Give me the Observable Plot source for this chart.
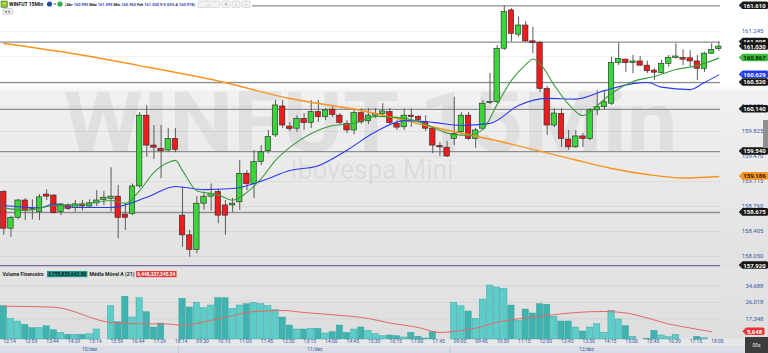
<!DOCTYPE html>
<html>
<head>
<meta charset="utf-8">
<script src="https://cdn.jsdelivr.net/npm/d3@7"></script>
<script src="https://cdn.jsdelivr.net/npm/@observablehq/plot@0.6"></script>
<style>
html, body { margin:0; padding:0; background:#ffffff; }
#root { position:relative; width:768px; height:353px; overflow:hidden; font-family: Roboto, "Liberation Sans", sans-serif; }
#root > svg { position:absolute; left:0; display:block; }
</style>
</head>
<body>
<div id="root"></div>
<script>
// ---------------- DATA ----------------
const candleOpen = [158965,158445,158600,158845,158730,158680,158930,158915,158680,158775,
158740,158790,158760,158805,158855,158870,158900,158645,158655,159045,
160050,159625,159580,159555,159720,158630,158350,158145,158800,158900,
158965,158775,158775,158820,159225,159080,159390,159545,159770,160180,
159895,159865,160005,159945,160100,160030,160135,160050,159935,159840,
160085,159970,160050,160075,160100,159935,159885,160050,160030,159955,
159865,159620,159595,159720,159815,160050,159720,159865,160230,160240,
161000,161545,161200,161330,161105,161080,160430,159910,160075,159710,
159600,159755,159720,160125,160170,160220,160795,160845,160795,160820,
160760,160690,160655,160785,160870,160870,160865,160820,160715,160930,160995];
const candleHigh = [158985,158620,158860,158870,158855,158930,158995,158930,158800,158800,
158845,158845,158855,158985,158975,159310,159060,158800,159080,160095,
160195,159910,159910,159870,159865,159035,158420,158900,158965,159080,
159010,158845,158875,159415,159270,159555,159625,159840,160265,160265,
159955,160050,160080,160265,160265,160150,160170,160080,159980,160150,
160150,160150,160150,160220,160150,159980,160145,160145,160050,160050,
159895,159670,159685,160310,160095,160095,159870,160265,160650,161045,
161610,161570,161450,161385,161305,161105,160465,160150,160150,159840,
159840,159795,160150,160405,160405,160880,161080,160855,160905,160890,
160825,160715,160835,160905,161070,160985,160975,160905,160950,161070,161095];
const candleLow = [158350,158325,158570,158560,158570,158560,158845,158655,158630,158705,
158680,158695,158740,158760,158775,158680,158300,158420,158630,159015,
159460,159425,159155,159525,159525,158180,158040,158090,158705,158695,
158515,158350,158675,158705,158985,158875,159340,159510,159740,159870,
159825,159810,159840,159870,159955,159980,160025,159910,159795,159780,
159925,159925,160010,160050,159910,159840,159840,159885,159955,159825,
159510,159470,159455,159625,159780,159695,159585,159840,160210,160220,
160975,161095,161165,161090,160930,160380,159770,159880,159600,159555,
159585,159600,159695,160050,160125,160195,160760,160665,160645,160750,
160645,160550,160645,160740,160855,160760,160740,160550,160665,160920,160965];
const candleClose = [158445,158600,158845,158695,158725,158890,158900,158665,158790,158725,
158790,158760,158805,158845,158885,158900,158600,158600,159045,160050,
159625,159595,159545,159720,159565,158350,158145,158800,158900,158940,
158630,158630,158800,159225,159080,159390,159530,159745,160195,159910,
159860,160005,159945,160100,160030,160125,160060,159945,159840,160085,
159955,160050,160075,160110,159945,159880,160050,160030,159990,159865,
159625,159600,159470,159790,160050,159720,159840,160220,160245,161000,
161520,161210,161330,161105,161080,160430,159910,160080,159720,159600,
159755,159720,160125,160170,160240,160795,160855,160795,160820,160760,
160680,160660,160785,160870,160890,160845,160820,160715,160930,160985,161030];
const volumeFin = [23970,17350,15930,14200,12410,12410,13460,11360,9990,8940,
8940,8940,9255,11725,0,23970,15560,28910,18030,28175,
20815,12775,14880,0,0,27860,23285,25755,22920,24335,
28175,28175,22605,24335,25020,25755,25020,23970,21865,18030,
13825,11725,11725,12095,12095,9625,10305,13825,9990,11725,
12775,11040,9255,8205,8570,8205,7520,9990,7890,7000,
10305,0,0,25755,23970,21185,17350,27490,34845,33795,
33115,24335,16295,22235,20135,25020,24705,18400,15930,15930,
12775,10675,12775,14510,9990,21550,16980,13460,7890,0,
6840,11040,8570,7680,8940,0,0,7890,7155,0,0];

const timeLabels = ["12:14","12:59","13:44","14:29","15:14","15:59","16:44","17:29","18:14",
"09:30","10:15","11:00","11:45","12:30","13:15","14:00","14:45","15:30","16:15","17:00","17:45",
"09:00","09:45","10:30","11:15","12:00","12:45","13:30","14:15","15:00","15:45","16:30","17:15","18:00"];
const dayLabels = ["10/dez","11/dez","12/dez"];
const dayStart = [0, 25, 63];

const levelLines = [161610, 161095, 160520, 160140, 159540, 158675, 157920];
const priceTicks = [161245, 160890, 160535, 160180, 159825, 159470, 159115, 158760, 158405, 158050];
const volTicks = [34688, 26018, 17348];

const orangeIdx = [0,10,20,30,40,50,60,70,80,85,90,95,100];
const orangeVal = [161074,160925,160741,160542,160293,160123,159889,159669,159420,159300,159214,159165,159186];
const blueIdx = [0,5,7,10,15,20,24,28,32,36,40,44,48,52,56,60,64,68,72,76,80,84,88,90,92,96,98,100];
const blueVal = [158775,158740,158795,158745,158745,158890,159045,159000,159015,159120,159270,159340,159560,159820,159980,159955,159910,159940,160195,160295,160285,160405,160505,160520,160455,160420,160520,160629];
const greenIdx = [0,3,7,11,15,17,19,21,23,24,25,27,30,32,34,36,38,40,43,46,49,52,55,58,61,63,65,67,69,71,73,74,75,77,79,81,83,85,88,91,94,97,100];
const greenVal = [158740,158705,158775,158790,158845,158805,158985,159245,159385,159415,159270,158985,158925,158850,158960,159155,159415,159600,159795,159910,159940,160040,160025,159965,159840,159780,159770,159855,160210,160550,160775,160855,160790,160480,160210,160050,160195,160365,160535,160605,160705,160760,160867];
const volMaIdx = [0,7,15,19,23,25,28,31,35,39,42,46,51,54,58,61,63,66,69,72,76,80,84,87,90,93,96,99];
const volMaVal = [23970,23440,15400,14720,14615,13830,15770,18030,21180,21710,20660,19450,17510,15140,12780,10150,10670,12410,15560,17350,19080,20660,21180,20400,17770,14615,12510,10520];
const volMaLastLabel = "5,648";

const headerTitle = "WINFUT 15Min";
const quoteParts = [["(Abr ", "160.995"], [" Máx ", "161.095"], [" Mín ", "160.965"], [" Fch ", "161.030"], [" V ", "0.02%"], [" A ", "160.978"], [")", ""]];
const volHeader = ["Volume Financeiro", "2,755,835,642.80", "Média Móvel A (21)", "9,448,337,345.54"];
const watermarkMain = "WINFUT 15Min";
const watermarkSub = "Ibovespa Mini";

// ---------------- SETUP ----------------
const FONT = 'Roboto, "Liberation Sans", sans-serif';
const N = candleOpen.length;
const candles = d3.range(N).map(i => ({i, o: candleOpen[i], h: candleHigh[i], l: candleLow[i], c: candleClose[i], v: volumeFin[i]}));
const X_DOMAIN = [-0.4615, 100.238];
const PRICE_DOMAIN = [157879.6, 161685.2];
const VOL_BASE = 6471;
const VOL_DOMAIN = [VOL_BASE, 43781];
const UP = "#3bd43b", DOWN = "#ee1c1c";
const brFmt = d3.formatLocale({decimal: ",", thousands: ".", grouping: [3], currency: ["", ""]}).format(",d");
const enFmt = d3.format(",d");
const zipLine = (idx, val) => idx.map((x, k) => ({x, y: val[k]}));
const AXIS_BLUE = "#3a58a8";

const tagData = [
  ...levelLines.map(v => ({v, bg: "#161616", fg: "#ffffff"})),
  {v: candleClose[N - 1], bg: "#161616", fg: "#ffffff"},
  {v: greenVal[greenVal.length - 1], bg: "#3cba3c", fg: "#062406"},
  {v: blueVal[blueVal.length - 1], bg: "#1f3cf0", fg: "#ffffff"},
  {v: orangeVal[orangeVal.length - 1], bg: "#f7941d", fg: "#2a1200"}
];
// axis labels that sit right under a value tag are hidden by it in the original
const visibleTicks = priceTicks.filter(t => !tagData.some(g => Math.abs(g.v - t) < 30));

const pricePlot = Plot.plot({
  width: 768, height: 268, marginLeft: 0, marginRight: 48, marginTop: 0, marginBottom: 0,
  x: {domain: X_DOMAIN, axis: null},
  y: {domain: PRICE_DOMAIN, axis: null},
  color: {type: "identity"},
  style: {background: "linear-gradient(to bottom,#ffffff 0px,#ffffff 86px,#f1f1f1 92px,#e8e8e8 190px,#e1e1e1 268px)", fontFamily: FONT, overflow: "visible"},
  marks: [
    Plot.text([watermarkMain], {frameAnchor: "top-left", dx: 63, dy: 150, lineAnchor: "bottom", textAnchor: "start", fontSize: 84, fontWeight: "bold", fill: "#000000", fillOpacity: 0.06, ariaDescription: "wm-main"}),
    Plot.text([watermarkSub], {frameAnchor: "top-left", dx: 290, dy: 178, lineAnchor: "bottom", textAnchor: "start", fontSize: 27, fill: "#000000", fillOpacity: 0.08, ariaDescription: "wm-sub"}),
    Plot.ruleY(priceTicks, {stroke: "#000000", strokeOpacity: 0.07, strokeWidth: 0.8}),
    Plot.ruleY(levelLines, {stroke: (d, k) => k === levelLines.length - 1 ? "#7b6aa0" : "#8d8d8d", strokeWidth: 1.3}),
    Plot.ruleX(candles, {x: "i", y1: "l", y2: "h", stroke: "#5a5a5a", strokeWidth: 1}),
    Plot.rect(candles, {x1: d => d.i - 0.38, x2: d => d.i + 0.38, y1: "o", y2: "c", fill: d => d.c >= d.o ? UP : DOWN, stroke: "#262626", strokeWidth: 0.6}),
    Plot.line(zipLine(orangeIdx, orangeVal), {x: "x", y: "y", stroke: "#f7941d", strokeWidth: 1.4, curve: "monotone-x"}),
    Plot.line(zipLine(blueIdx, blueVal), {x: "x", y: "y", stroke: "#2b3cf0", strokeWidth: 1.1, curve: "monotone-x"}),
    Plot.line(zipLine(greenIdx, greenVal), {x: "x", y: "y", stroke: "#3c9c3c", strokeWidth: 1.1, curve: "monotone-x"}),
    Plot.text(visibleTicks, {y: d => d, text: d => brFmt(d), frameAnchor: "right", dx: 43, textAnchor: "end", fontSize: 6, fill: AXIS_BLUE}),
    Plot.text(tagData, {y: "v", text: d => brFmt(d.v), frameAnchor: "right", dx: 34, textAnchor: "middle", fontSize: 6, fontWeight: "bold", fill: "fg", ariaDescription: "price-tags"})
  ]
});
pricePlot.style.top = "0px";

const dayEnd = dayStart.map((s, k) => k < dayStart.length - 1 ? dayStart[k + 1] - 1 : N - 1);
const volPlot = Plot.plot({
  width: 768, height: 85, marginLeft: 0, marginRight: 48, marginTop: 0, marginBottom: 14,
  x: {domain: X_DOMAIN, axis: null},
  y: {domain: VOL_DOMAIN, axis: null},
  color: {type: "identity"},
  style: {background: "linear-gradient(to bottom,#e4e4e4 0px,#dedede 71px,#e7e7e7 71px,#e7e7e7 78px,#d9dee6 78px,#d9dee6 85px)", fontFamily: FONT, overflow: "visible"},
  marks: [
    Plot.ruleY(volTicks, {stroke: "#000000", strokeOpacity: 0.08, strokeWidth: 0.8}),
    Plot.rect(candles.filter(d => d.v > 0), {x1: d => d.i - 0.44, x2: d => d.i + 0.44, y1: () => VOL_BASE, y2: "v", fill: d => d.c >= d.o ? "#5ccdc9" : "#3fb3af", stroke: "#2f9c98", strokeWidth: 0.4}),
    Plot.line(zipLine(volMaIdx, volMaVal), {x: "x", y: "y", stroke: "#e8675f", strokeWidth: 1, curve: "monotone-x"}),
    Plot.text(volTicks, {y: d => d, text: d => enFmt(d), frameAnchor: "right", dx: 43, textAnchor: "end", fontSize: 6, fill: AXIS_BLUE}),
    Plot.text([volMaVal[volMaVal.length - 1]], {y: d => d, text: () => volMaLastLabel, frameAnchor: "right", dx: 34, textAnchor: "middle", fontSize: 6, fontWeight: "bold", fill: "#ffffff", ariaDescription: "vol-tags"}),
    Plot.text(timeLabels, {x: (d, k) => k * 3, text: d => d, frameAnchor: "bottom", dy: 3.6, dx: -0.5, textAnchor: "start", fontSize: 5, fill: AXIS_BLUE}),
    Plot.text(dayLabels, {x: (d, k) => (dayStart[k] + dayEnd[k]) / 2, text: d => d, frameAnchor: "bottom", dy: 11, fontSize: 4.8, fill: AXIS_BLUE})
  ]
});
volPlot.style.top = "268px";

const root = document.getElementById("root");
// volume pane first so that the price pane's bottom tag (157.920) may overhang it
root.appendChild(volPlot);
root.appendChild(pricePlot);

// tag backgrounds
const NS = "http://www.w3.org/2000/svg";
function boxTags(svg, label, bgs) {
  const texts = svg.querySelectorAll(`g[aria-description="${label}"] text`);
  texts.forEach((t, k) => {
    const bb = t.getBBox();
    const r = document.createElementNS(NS, "rect");
    r.setAttribute("x", bb.x - 1.8); r.setAttribute("y", bb.y - 0.3);
    r.setAttribute("width", bb.width + 3.6); r.setAttribute("height", bb.height + 0.6);
    r.setAttribute("rx", 1.5); r.setAttribute("fill", bgs[k]);
    const cy = bb.y + bb.height / 2;
    const p = document.createElementNS(NS, "path");
    p.setAttribute("d", `M${bb.x - 1.6},${cy - 3}L${bb.x - 4.5},${cy}L${bb.x - 1.6},${cy + 3}Z`);
    p.setAttribute("fill", bgs[k]);
    const tr = t.getAttribute("transform");
    if (tr) { r.setAttribute("transform", tr); p.setAttribute("transform", tr); }
    t.parentNode.insertBefore(r, t); t.parentNode.insertBefore(p, t);
  });
}
boxTags(pricePlot, "price-tags", tagData.map(d => d.bg));
boxTags(volPlot, "vol-tags", ["#e53535"]);
d3.select(pricePlot).selectAll('g[aria-description="wm-main"] text').attr("textLength", 614).attr("lengthAdjust", "spacingAndGlyphs");
d3.select(pricePlot).selectAll('g[aria-description="wm-sub"] text').attr("textLength", 163).attr("lengthAdjust", "spacingAndGlyphs");

// ---------------- OVERLAY (header, panels) ----------------
const ov = d3.select(root).append("svg").attr("width", 768).attr("height", 353)
  .style("top", "0px").style("pointer-events", "none").style("font-family", FONT);
ov.append("rect").attr("x", 0).attr("y", 0).attr("width", 252).attr("height", 8.6).attr("fill", "#ffffff");
ov.append("rect").attr("x", 1).attr("y", 1).attr("width", 6.5).attr("height", 6.5).attr("fill", "#7cc242").attr("stroke", "#4a7a22").attr("stroke-width", 0.5);
ov.append("rect").attr("x", 2.5).attr("y", 2.5).attr("width", 3.5).attr("height", 2).attr("fill", "#f2d23c");
ov.append("text").attr("x", 9).attr("y", 6.3).attr("font-size", 5.6).attr("font-weight", "bold").attr("fill", "#111")
  .attr("textLength", 34).attr("lengthAdjust", "spacingAndGlyphs").text(headerTitle);
ov.append("circle").attr("cx", 49.5).attr("cy", 4).attr("r", 2.6).attr("fill", "#1f4aa8");
ov.append("text").attr("x", 53.4).attr("y", 6).attr("font-size", 5).attr("fill", "#333").text("=");
ov.append("circle").attr("cx", 60).attr("cy", 4).attr("r", 2.6).attr("fill", "#2fae46");
const q = ov.append("text").attr("x", 65).attr("y", 6.3).attr("font-size", 4.3).attr("font-weight", "bold")
  .attr("textLength", 130).attr("lengthAdjust", "spacingAndGlyphs");
quoteParts.forEach(([lab, val]) => {
  q.append("tspan").attr("fill", "#222").text(lab);
  if (val) q.append("tspan").attr("fill", "#2b3fb0").text(val);
});
[[198, 22], [222, 8], [232, 8], [242, 8]].forEach(([x, w]) => {
  ov.append("rect").attr("x", x).attr("y", 1).attr("width", w).attr("height", 6.4).attr("rx", 1)
    .attr("fill", "#f3f3f3").attr("stroke", "#b8b8b8").attr("stroke-width", 0.5);
});
ov.append("text").attr("x", 209).attr("y", 6).attr("font-size", 4.5).attr("fill", "#777").attr("text-anchor", "middle").text("⌄  ·");
["×", "‹", "›"].forEach((g, k) => ov.append("text").attr("x", 226 + k * 10).attr("y", 6.2).attr("font-size", 4.5).attr("fill", "#777").attr("text-anchor", "middle").text(g));
ov.append("rect").attr("x", 3).attr("y", 8.6).attr("width", 9.5).attr("height", 5.6).attr("rx", 1).attr("fill", "#f0f0f0").attr("stroke", "#aaa").attr("stroke-width", 0.5);
ov.append("text").attr("x", 7.7).attr("y", 12.9).attr("font-size", 4).attr("fill", "#444").attr("text-anchor", "middle").text("▾ 6");

// volume header
const vh = [[2.5, 41, "#222", null], [48.2, 38, "#0b1b1a", "#21968f"], [89.5, 45, "#222", null], [137.3, 38, "#ffffff", "#e53939"]];
vh.forEach(([x, w, fg, bg], k) => {
  if (bg) ov.append("rect").attr("x", x - 1.2).attr("y", 271).attr("width", w + 2.4).attr("height", 6.2).attr("fill", bg);
  ov.append("text").attr("x", x).attr("y", 276).attr("font-size", 5.2).attr("font-weight", "bold").attr("fill", fg)
    .attr("textLength", w).attr("lengthAdjust", "spacingAndGlyphs").text(volHeader[k]);
});

// day separators in date row
const xs = volPlot.scale("x");
dayStart.slice(1).forEach(s => {
  const px = xs.apply(s - 0.5);
  ov.append("line").attr("x1", px).attr("x2", px).attr("y1", 346).attr("y2", 353).attr("stroke", "#b9c0cc").attr("stroke-width", 0.8);
});

// scroll handle and seconds box
ov.append("rect").attr("x", 763).attr("y", 120).attr("width", 5).attr("height", 28).attr("fill", "#8f8f8f");
ov.append("rect").attr("x", 745).attr("y", 337).attr("width", 23).attr("height", 16).attr("fill", "#3c3c3c");
ov.append("text").attr("x", 756.5).attr("y", 347.3).attr("font-size", 5).attr("fill", "#e8e8e8").attr("text-anchor", "middle").text("00s");
</script>
</body>
</html>
